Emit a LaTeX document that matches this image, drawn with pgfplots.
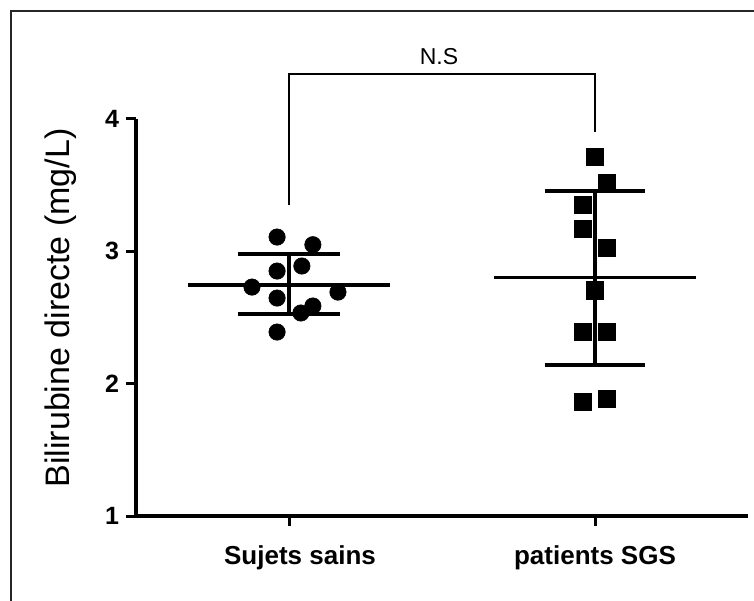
\documentclass[border=0pt]{standalone}
\usepackage{fontspec}
\setmainfont{Liberation Sans}
\usepackage{pgfplots}
\pgfplotsset{compat=1.18}

% 1 px of the reference = 0.5pt; axis box 612 x 397 px
\begin{document}
\begin{tikzpicture}
  \useasboundingbox (-68pt,-42pt) rectangle (309pt,258pt);
  \draw[line width=1.3pt,black!85] (-62.5pt,-50pt) -- (-62.5pt,252.5pt) -- (320pt,252.5pt);
  \begin{axis}[
    at={(0,0)},anchor=south west,
    scale only axis,width=306pt,height=198.5pt,
    xmin=-0.5,xmax=1.5,ymin=1,ymax=4,
    axis x line*=bottom,axis y line*=left,
    axis line style={line width=2pt,-},
    xtick={0,1},
    xticklabels={\hspace{11pt}Sujets sains,patients SGS\hspace{16pt}},
    ytick={1,2,3,4},
    tick align=outside,major tick length=5pt,
    tick style={line width=1.5pt,black},
    /pgf/number format/assume math mode=true,
    yticklabel style={font=\bfseries\fontsize{12.5}{14}\selectfont},
    xticklabel style={font=\bfseries\fontsize{13}{15}\selectfont,yshift=-6.5pt},
    ylabel={Bilirubine directe (mg/L)},
    ylabel style={at={(axis description cs:-0.1225,0.524)},anchor=center,
      font=\fontsize{17}{20}\selectfont},
    clip=false,
  ]
    % individual values
    \addplot[only marks,mark=*,mark size=4.1pt,
      mark options={fill=black,draw=black,line width=0.3pt}] coordinates {
      (-0.039,3.108) (0.078,3.050) (-0.039,2.851) (0.042,2.889)
      (-0.121,2.730) (0.160,2.692) (-0.039,2.647) (0.078,2.587)
      (0.039,2.534) (-0.039,2.390)
    };
    \addplot[only marks,mark=square*,mark size=4.3pt,
      mark options={fill=black,draw=black,line width=0.2pt}] coordinates {
      (1.000,3.713) (1.039,3.516) (0.961,3.350) (0.961,3.169)
      (1.039,3.025) (1.000,2.707) (0.961,2.390) (1.039,2.390)
      (0.961,1.861) (1.039,1.884)
    };
    % mean lines
    \addplot[black,line width=1.75pt] coordinates {(-0.33,2.745) (0.33,2.745)};
    \addplot[black,line width=1.75pt] coordinates {(0.67,2.803) (1.33,2.803)};
    % SD bars
    \addplot[black,line width=2pt] coordinates {(0,2.526) (0,2.980)};
    \addplot[black,line width=2pt] coordinates {(-0.167,2.980) (0.167,2.980)};
    \addplot[black,line width=2pt] coordinates {(-0.167,2.526) (0.167,2.526)};
    \addplot[black,line width=2pt] coordinates {(1,2.141) (1,3.456)};
    \addplot[black,line width=2pt] coordinates {(0.835,3.456) (1.165,3.456)};
    \addplot[black,line width=2pt] coordinates {(0.835,2.141) (1.165,2.141)};
    % significance bracket
    \addplot[black,line width=0.8pt] coordinates {(0,3.35) (0,4.34) (1,4.34) (1,3.90)};
    \node[font=\fontsize{11.5}{13}\selectfont] at (axis cs:0.49,4.475) {N.S};
  \end{axis}
\end{tikzpicture}
\end{document}
